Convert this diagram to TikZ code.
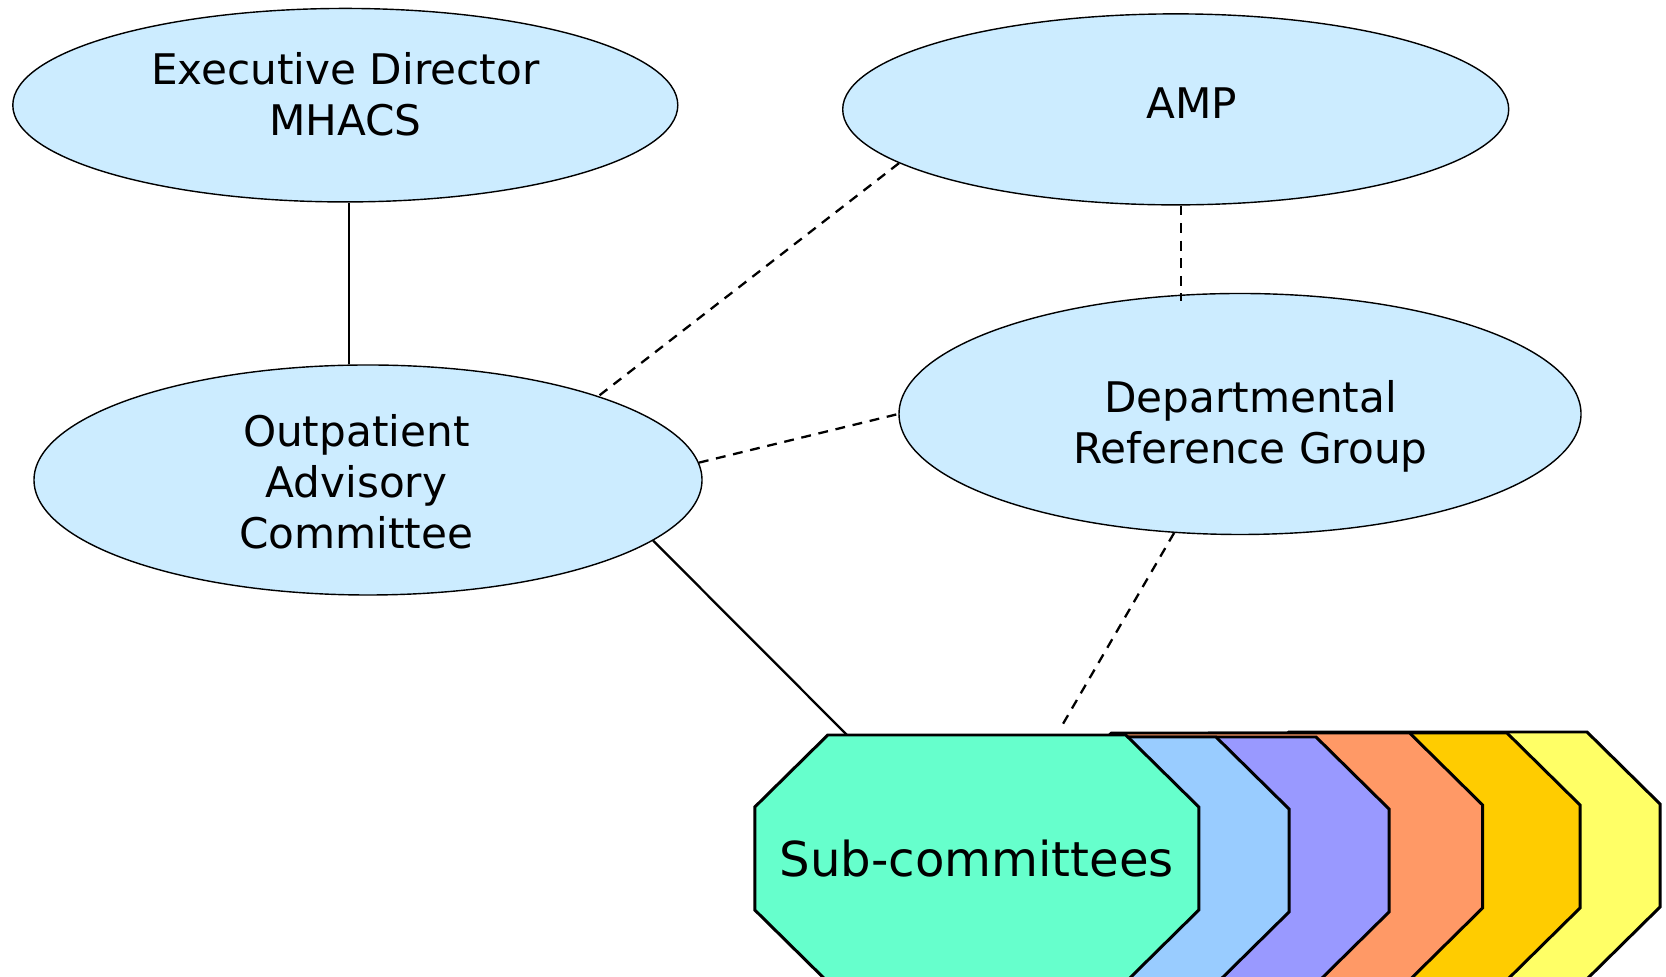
\documentclass[tikz,border=0pt]{standalone}
\usepackage{fontspec}
\setmainfont{DejaVu Sans}
\usetikzlibrary{shapes.geometric}

\definecolor{ovalblue}{HTML}{CCECFF}
\definecolor{subgreen}{HTML}{66FFCC}
\definecolor{subblue}{HTML}{99CCFF}
\definecolor{subpurple}{HTML}{9999FF}
\definecolor{suborange}{HTML}{FF9966}
\definecolor{subgold}{HTML}{FFCC00}
\definecolor{subyellow}{HTML}{FFFF66}

\tikzset{
    oval/.style={ellipse, draw, fill=ovalblue, line width=0.4pt, inner sep=0pt},
    ovaltext/.style={align=center, inner sep=0pt, font=\fontsize{12}{14.5}\selectfont},
    link/.style={line width=0.65pt},
    dashlink/.style={line width=0.65pt, dash pattern=on 2.8pt off 2.2pt},
    octa/.style={draw, line width=0.85pt, line join=miter}
}

\begin{document}
\begin{tikzpicture}
    \useasboundingbox (0,0) rectangle (16.66,-9.77);
    \clip (0,0) rectangle (16.66,-9.77);

    % Ovals
    \node[oval, minimum width=6.65cm, minimum height=1.935cm] (exec) at (3.453,-1.052) {};
    \node[oval, minimum width=6.66cm, minimum height=1.91cm] (amp) at (11.757,-1.094) {};
    \node[oval, minimum width=6.68cm, minimum height=2.30cm] (outp) at (3.68,-4.80) {};
    \node[oval, minimum width=6.82cm, minimum height=2.41cm] (dept) at (12.40,-4.14) {};

    % Oval texts
    \node[ovaltext] (exectext) at ([shift={(0,0.106)}]exec) {Executive Director\\MHACS};
    \node[ovaltext] (amptext) at ([shift={(0.16,0.064)}]amp) {AMP};
    \node[ovaltext] (outptext) at ([shift={(-0.117,-0.02)}]outp) {Outpatient\\Advisory\\Committee};
    \node[ovaltext] (depttext) at ([shift={(0.106,-0.128)}]dept) {Departmental\\Reference Group};

    % Sub-committee octagons (back to front)
    \foreach \x/\y/\c in {12.16/-7.32/subyellow, 11.36/-7.33/subgold,
        10.386/-7.33/suborange, 9.45/-7.37/subpurple, 8.45/-7.37/subblue,
        7.548/-7.35/subgreen}
        \filldraw[octa, fill=\c] (\x+0.73,\y) -- (\x+3.71,\y) -- (\x+4.44,\y-0.72)
            -- (\x+4.44,\y-1.75) -- (\x+3.71,\y-2.47) -- (\x+0.73,\y-2.47)
            -- (\x,\y-1.75) -- (\x,\y-0.72) -- cycle;
    \node[font=\fontsize{13.7}{16}\selectfont] (sub) at (9.768,-8.585) {Sub-committees};
    \coordinate (subA) at (8.47,-7.35);
    \coordinate (subB) at (10.60,-7.29);

    % Connectors
    \draw[link] (exec.-88.8) -- (exec.-88.8 |- outp.north);
    \draw[dashlink] (amp.191) -- (outp.20);
    \draw[dashlink] (amp.-87) -- ([yshift=-0.08cm]amp.-87 |- dept.north);
    \draw[dashlink] (outp.3) -- (dept.west);
    \draw[link] (outp.-12.6) -- (subA);
    \draw[dashlink] (dept.241) -- (subB);
\end{tikzpicture}
\end{document}
